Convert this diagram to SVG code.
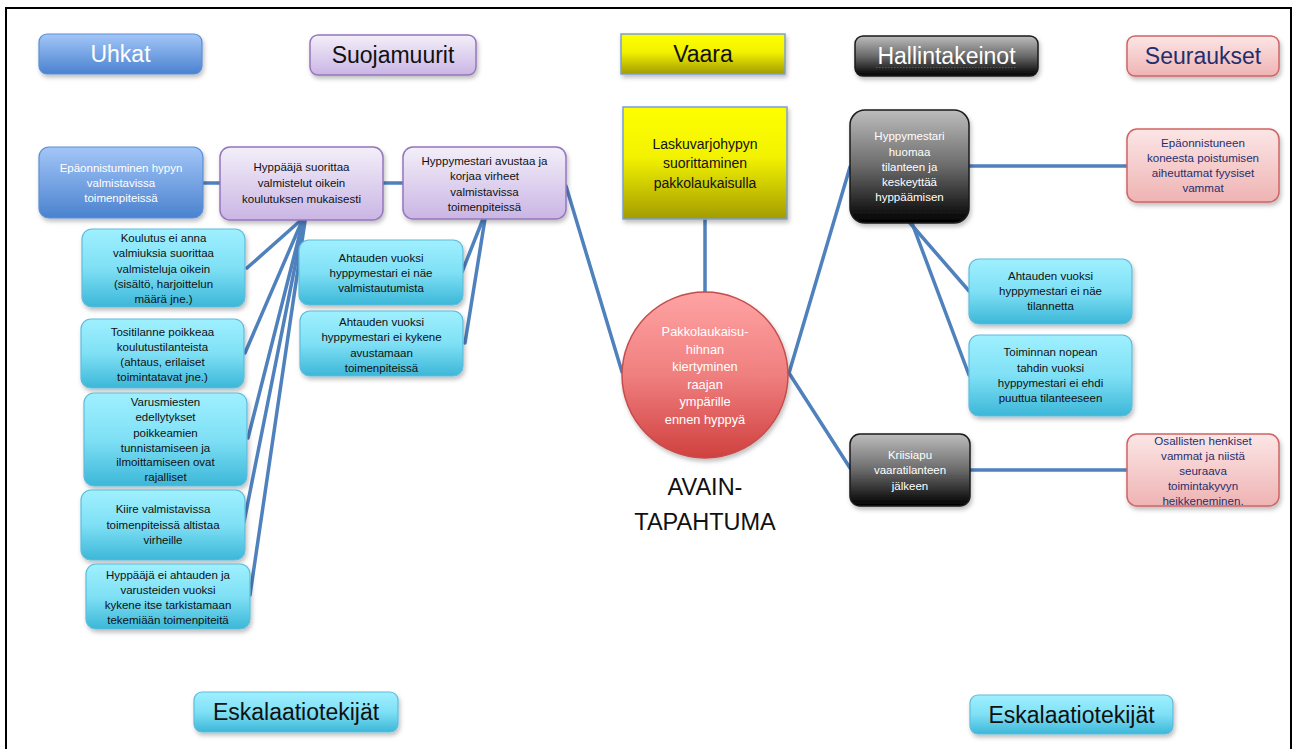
<svg xmlns="http://www.w3.org/2000/svg" width="1295" height="749" viewBox="0 0 1295 749">
<defs>
<linearGradient id="gBlue" x1="0" y1="0" x2="0" y2="1"><stop offset="0" stop-color="#a3c6f8"/><stop offset="1" stop-color="#4a82cf"/></linearGradient>
<linearGradient id="gLav" x1="0" y1="0" x2="0" y2="1"><stop offset="0" stop-color="#f3eff9"/><stop offset="1" stop-color="#cab5e4"/></linearGradient>
<linearGradient id="gYel" x1="0" y1="0" x2="0" y2="1"><stop offset="0" stop-color="#ffff00"/><stop offset="0.45" stop-color="#f2f200"/><stop offset="1" stop-color="#a39c00"/></linearGradient>
<linearGradient id="gDark" x1="0" y1="0" x2="0" y2="1"><stop offset="0" stop-color="#bdbdbd"/><stop offset="0.5" stop-color="#6a6a6a"/><stop offset="1" stop-color="#000000"/></linearGradient>
<linearGradient id="gPink" x1="0" y1="0" x2="0" y2="1"><stop offset="0" stop-color="#fce6e6"/><stop offset="1" stop-color="#efb3b3"/></linearGradient>
<linearGradient id="gCyan" x1="0" y1="0" x2="0" y2="1"><stop offset="0" stop-color="#9ff0ff"/><stop offset="0.5" stop-color="#7fe0f5"/><stop offset="1" stop-color="#3cb7d8"/></linearGradient>
<linearGradient id="gRed" x1="0" y1="0" x2="0" y2="1"><stop offset="0" stop-color="#ffa3a3"/><stop offset="0.5" stop-color="#f07f7f"/><stop offset="1" stop-color="#d0403f"/></linearGradient>
<filter id="sh" x="-10%" y="-10%" width="125%" height="135%"><feDropShadow dx="1.5" dy="3" stdDeviation="2" flood-color="#000" flood-opacity="0.25"/></filter>
</defs>
<style>
text{font-family:"Liberation Sans",Arial,sans-serif;text-anchor:middle}
.t{font-size:11.5px;fill:#111}
.tw{font-size:11.5px;fill:#fff}
.tp{font-size:11.6px;fill:#1f2f6e}
.h{font-size:23px}
.blue{fill:url(#gBlue);stroke:#5b8fd6;stroke-width:1.2}
.lav{fill:url(#gLav);stroke:#9576bd;stroke-width:1.5}
.yel{fill:url(#gYel);stroke:#7b9fd0;stroke-width:1.5}
.dark{fill:url(#gDark);stroke:#1a1a1a;stroke-width:1.5}
.pink{fill:url(#gPink);stroke:#d06464;stroke-width:1.5}
.cyan{fill:url(#gCyan);stroke:#5fbcdc;stroke-width:1.2}
.c{stroke:#4f81bd;stroke-width:3.5;fill:none;stroke-linecap:round}
</style>
<rect width="1295" height="749" fill="#fff"/>
<path d="M6,760 V8 H1291 V760" fill="none" stroke="#000" stroke-width="2"/>

<g id="connectors">
<line class="c" x1="203" y1="183" x2="220" y2="183"/>
<line class="c" x1="383" y1="183" x2="403" y2="183"/>
<line class="c" x1="566" y1="186" x2="622" y2="372"/>
<line class="c" x1="705" y1="219" x2="705" y2="293"/>
<line class="c" x1="789" y1="373" x2="850" y2="167"/>
<line class="c" x1="789" y1="373" x2="850" y2="468"/>
<line class="c" x1="969" y1="166" x2="1127" y2="166"/>
<line class="c" x1="970" y1="470" x2="1127" y2="470"/>
<line class="c" x1="910" y1="223" x2="969" y2="291"/>
<line class="c" x1="912" y1="223" x2="969" y2="375"/>
<line class="c" x1="300" y1="221" x2="247" y2="268"/>
<line class="c" x1="302" y1="221" x2="245" y2="353"/>
<line class="c" x1="303" y1="221" x2="248" y2="438"/>
<line class="c" x1="304" y1="221" x2="244" y2="522"/>
<line class="c" x1="305" y1="221" x2="250" y2="595"/>
<line class="c" x1="483" y1="219" x2="462" y2="272"/>
<line class="c" x1="485" y1="219" x2="465" y2="343"/>
</g>

<g id="hdr-uhkat"><rect class="blue" x="39" y="34" width="163" height="40" rx="8" filter="url(#sh)"/><text class="h" x="120.5" y="62" fill="#fff">Uhkat</text></g>
<g id="hdr-suojamuurit"><rect class="lav" x="310" y="35" width="166" height="40" rx="8" filter="url(#sh)"/><text class="h" x="393" y="63" fill="#111">Suojamuurit</text></g>
<g id="hdr-vaara"><rect class="yel" x="621" y="34" width="164" height="40" filter="url(#sh)"/><text class="h" x="703" y="62" fill="#111">Vaara</text></g>
<g id="hdr-hallintakeinot"><rect class="dark" x="855" y="36" width="183" height="40" rx="8" filter="url(#sh)"/><text class="h" x="946.5" y="64" fill="#fff">Hallintakeinot</text><line x1="876" y1="67.5" x2="1017" y2="67.5" stroke="#e02020" stroke-width="1.2" stroke-dasharray="1.5,1.5"/></g>
<g id="hdr-seuraukset"><rect class="pink" x="1127" y="36" width="152" height="40" rx="8" filter="url(#sh)"/><text class="h" x="1203" y="64" fill="#1f2f6e">Seuraukset</text></g>

<g id="n-epaonnistuminen"><rect class="blue" x="39" y="147" width="164" height="71" rx="10" filter="url(#sh)"/>
<text class="tw" x="121" y="172.3">Epäonnistuminen hypyn</text><text class="tw" x="121" y="187.3">valmistavissa</text><text class="tw" x="121" y="202.3">toimenpiteissä</text></g>

<g id="n-hyppaaja"><rect class="lav" x="220" y="147" width="163" height="73" rx="10" filter="url(#sh)"/>
<text class="t" x="301.5" y="171.3">Hyppääjä suorittaa</text><text class="t" x="301.5" y="187.3">valmistelut oikein</text><text class="t" x="301.5" y="203">koulutuksen mukaisesti</text></g>

<g id="n-hyppymestari-avustaa"><rect class="lav" x="403" y="147" width="163" height="72" rx="10" filter="url(#sh)"/>
<text class="t" x="484.5" y="164.7">Hyppymestari avustaa ja</text><text class="t" x="484.5" y="179.7">korjaa virheet</text><text class="t" x="484.5" y="195.7">valmistavissa</text><text class="t" x="484.5" y="210.7">toimenpiteissä</text></g>

<g id="n-koulutus"><rect class="cyan" x="82" y="229" width="163" height="78" rx="10" filter="url(#sh)"/>
<text class="t" x="163.5" y="242.3">Koulutus ei anna</text><text class="t" x="163.5" y="257.3">valmiuksia suorittaa</text><text class="t" x="163.5" y="273">valmisteluja oikein</text><text class="t" x="163.5" y="288">(sisältö, harjoittelun</text><text class="t" x="163.5" y="303.3">määrä jne.)</text></g>

<g id="n-tositilanne"><rect class="cyan" x="81" y="319" width="163" height="69" rx="10" filter="url(#sh)"/>
<text class="t" x="162.5" y="335.7">Tositilanne poikkeaa</text><text class="t" x="162.5" y="350.7">koulutustilanteista</text><text class="t" x="162.5" y="366.3">(ahtaus, erilaiset</text><text class="t" x="162.5" y="381.3">toimintatavat jne.)</text></g>

<g id="n-varusmiesten"><rect class="cyan" x="84" y="393" width="163" height="93" rx="10" filter="url(#sh)"/>
<text class="t" x="165.5" y="406.3">Varusmiesten</text><text class="t" x="165.5" y="421">edellytykset</text><text class="t" x="165.5" y="436.5">poikkeamien</text><text class="t" x="165.5" y="451.5">tunnistamiseen ja</text><text class="t" x="165.5" y="466.3">ilmoittamiseen ovat</text><text class="t" x="165.5" y="481.3">rajalliset</text></g>

<g id="n-kiire"><rect class="cyan" x="81" y="490" width="164" height="70" rx="10" filter="url(#sh)"/>
<text class="t" x="163" y="513.3">Kiire valmistavissa</text><text class="t" x="163" y="529">toimenpiteissä altistaa</text><text class="t" x="163" y="544">virheille</text></g>

<g id="n-hyppaaja-ei"><rect class="cyan" x="86" y="564" width="164" height="65" rx="10" filter="url(#sh)"/>
<text class="t" x="168" y="579">Hyppääjä ei ahtauden ja</text><text class="t" x="168" y="594">varusteiden vuoksi</text><text class="t" x="168" y="609">kykene itse tarkistamaan</text><text class="t" x="168" y="624">tekemiään toimenpiteitä</text></g>

<g id="n-ahtauden-nae"><rect class="cyan" x="299" y="240" width="164" height="65" rx="10" filter="url(#sh)"/>
<text class="t" x="381" y="262.3">Ahtauden vuoksi</text><text class="t" x="381" y="277.3">hyppymestari ei näe</text><text class="t" x="381" y="292.3">valmistautumista</text></g>

<g id="n-ahtauden-kykene"><rect class="cyan" x="300" y="311" width="163" height="65" rx="10" filter="url(#sh)"/>
<text class="t" x="381.5" y="325.7">Ahtauden vuoksi</text><text class="t" x="381.5" y="341.3">hyppymestari ei kykene</text><text class="t" x="381.5" y="356.7">avustamaan</text><text class="t" x="381.5" y="372.3">toimenpiteissä</text></g>

<g id="n-vaara"><rect class="yel" x="623" y="107" width="164" height="112" filter="url(#sh)"/>
<text x="705" y="149.3" font-size="14" fill="#111">Laskuvarjohypyn</text><text x="705" y="168.3" font-size="14" fill="#111">suorittaminen</text><text x="705" y="188.3" font-size="14" fill="#111">pakkolaukaisulla</text></g>

<g id="n-avaintapahtuma"><circle cx="705" cy="375" r="83" fill="url(#gRed)" stroke="#c44d4d" stroke-width="1.5" filter="url(#sh)"/>
<text x="705" y="336.2" font-size="12.8" fill="#fff">Pakkolaukaisu-</text><text x="705" y="353.5" font-size="12.8" fill="#fff">hihnan</text><text x="705" y="371.2" font-size="12.8" fill="#fff">kiertyminen</text><text x="705" y="388.5" font-size="12.8" fill="#fff">raajan</text><text x="705" y="406.2" font-size="12.8" fill="#fff">ympärille</text><text x="705" y="423.5" font-size="12.8" fill="#fff">ennen hyppyä</text></g>

<g id="lbl-avaintapahtuma"><text x="705" y="495" font-size="23.5" fill="#111">AVAIN-</text><text x="705" y="530" font-size="23.5" fill="#111">TAPAHTUMA</text></g>

<g id="n-hyppymestari-huomaa"><rect class="dark" x="850" y="110" width="119" height="113" rx="15" filter="url(#sh)"/>
<text class="tw" x="909.5" y="140">Hyppymestari</text><text class="tw" x="909.5" y="155.7">huomaa</text><text class="tw" x="909.5" y="170.7">tilanteen ja</text><text class="tw" x="909.5" y="185.7">keskeyttää</text><text class="tw" x="909.5" y="200.7">hyppäämisen</text></g>

<g id="n-epaonnistuneen"><rect class="pink" x="1127" y="129" width="152" height="73" rx="10" filter="url(#sh)"/>
<text class="tp" x="1203" y="146.7">Epäonnistuneen</text><text class="tp" x="1203" y="161.7">koneesta poistumisen</text><text class="tp" x="1203" y="177">aiheuttamat fyysiset</text><text class="tp" x="1203" y="192.3">vammat</text></g>

<g id="n-ahtauden-tilannetta"><rect class="cyan" x="969" y="259" width="163" height="65" rx="10" filter="url(#sh)"/>
<text class="t" x="1050.5" y="279.7">Ahtauden vuoksi</text><text class="t" x="1050.5" y="295">hyppymestari ei näe</text><text class="t" x="1050.5" y="310">tilannetta</text></g>

<g id="n-toiminnan"><rect class="cyan" x="969" y="335" width="163" height="81" rx="10" filter="url(#sh)"/>
<text class="t" x="1050.5" y="356.3">Toiminnan nopean</text><text class="t" x="1050.5" y="371.7">tahdin vuoksi</text><text class="t" x="1050.5" y="386.7">hyppymestari ei ehdi</text><text class="t" x="1050.5" y="401.7">puuttua tilanteeseen</text></g>

<g id="n-kriisiapu"><rect class="dark" x="850" y="434" width="120" height="72" rx="10" filter="url(#sh)"/>
<text class="tw" x="910" y="459">Kriisiapu</text><text class="tw" x="910" y="474">vaaratilanteen</text><text class="tw" x="910" y="489.7">jälkeen</text></g>

<g id="n-osallisten"><rect class="pink" x="1127" y="434" width="152" height="72" rx="10" filter="url(#sh)"/>
<text class="tp" x="1203" y="444.7">Osallisten henkiset</text><text class="tp" x="1203" y="459.7">vammat ja niistä</text><text class="tp" x="1203" y="475">seuraava</text><text class="tp" x="1203" y="490.3">toimintakyvyn</text><text class="tp" x="1203" y="504.7">heikkeneminen.</text></g>

<g id="ftr-eskalaatio-left"><rect class="cyan" x="194" y="692" width="204" height="40" rx="8" filter="url(#sh)"/><text class="h" x="296" y="720" fill="#111">Eskalaatiotekijät</text></g>
<g id="ftr-eskalaatio-right"><rect class="cyan" x="970" y="695" width="203" height="39" rx="8" filter="url(#sh)"/><text class="h" x="1071.5" y="722.5" fill="#111">Eskalaatiotekijät</text></g>
</svg>
